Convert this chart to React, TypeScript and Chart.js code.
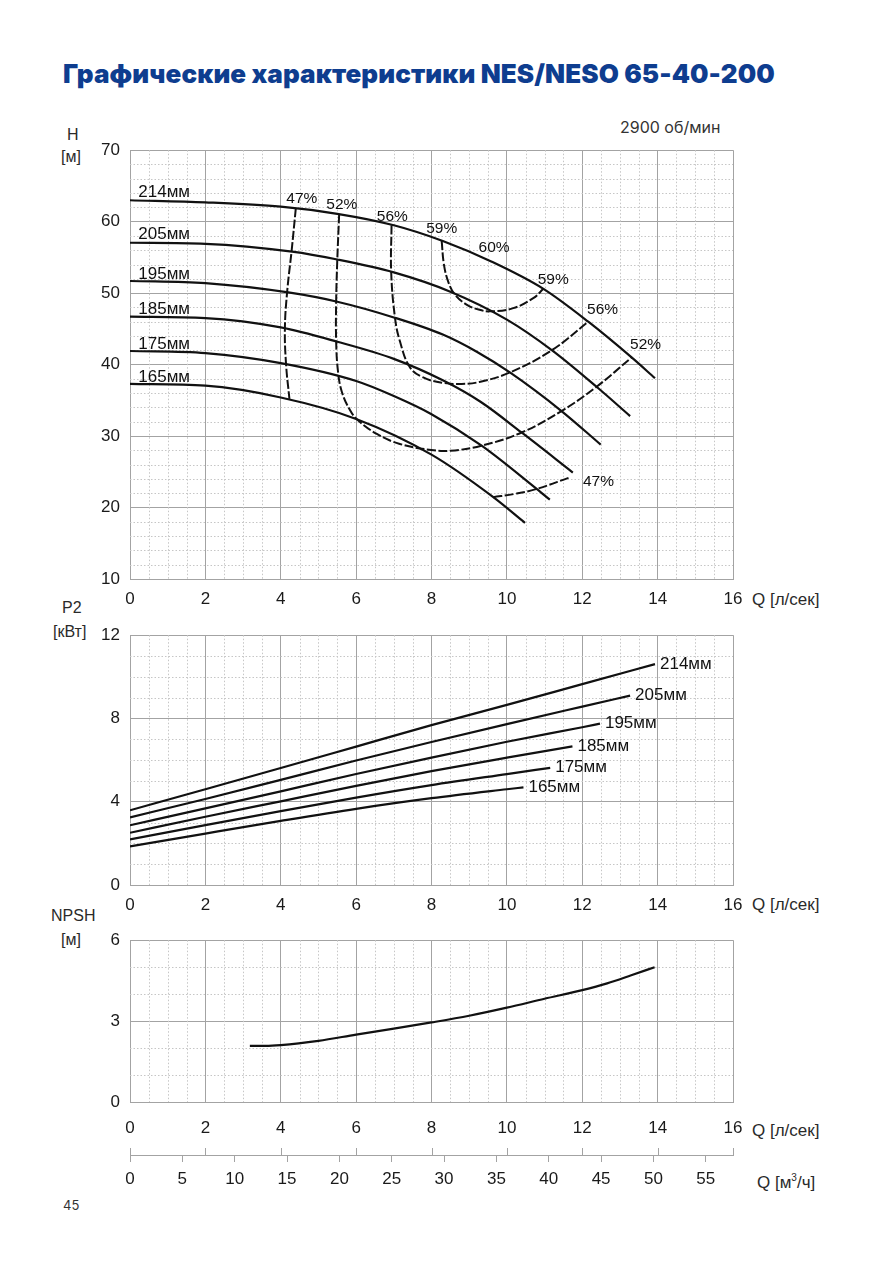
import React, { useEffect, useRef } from 'react';
import { Chart, registerables } from 'chart.js';
Chart.register(...registerables);

const FONT = '"Liberation Sans", Arial, sans-serif';
const GRID = '#a3a3a3';
const MINOR = '#c6c6c6';
const INK = '#111';

// ---------- H(Q) curves, l/s vs m ----------
const DIAMETERS = ['214мм', '205мм', '195мм', '185мм', '175мм', '165мм'];
const HQ_214 = [0, 2, 4, 5.5, 7, 8.3, 9.6, 10.97, 12.16, 13.31, 13.93];
const H_214 = [63.0, 62.7, 62.1, 61.1, 59.5, 57.3, 54.4, 50.6, 46.0, 41.0, 38.1];
const HQ_205 = [0, 2, 4.3, 5.5, 7, 8.5, 10, 11.2, 12.38, 13.27];
const H_205 = [57.05, 56.9, 55.8, 54.7, 52.9, 50.2, 46.3, 42.0, 36.9, 32.8];
const HQ_195 = [0, 2, 4.2, 5.5, 7, 8.3, 9.2, 10.08, 11.45, 12.49];
const H_195 = [51.7, 51.4, 50.1, 48.8, 46.6, 44.2, 41.8, 38.9, 33.5, 28.8];
const HQ_185 = [0, 2, 4, 5.5, 7, 8.3, 9.3, 10.39, 11.75];
const H_185 = [46.7, 46.5, 45.2, 43.2, 40.8, 37.8, 34.8, 30.5, 24.9];
const HQ_175 = [0, 2, 4, 6, 7, 8, 9.33, 10.79, 11.14];
const H_175 = [41.9, 41.6, 40.2, 37.7, 35.6, 33.06, 28.65, 22.6, 21.1];
const HQ_165 = [0, 2, 4, 6, 8, 9.64, 10.48];
const H_165 = [37.3, 37.05, 35.4, 32.4, 27.4, 21.45, 17.85];
const H_LABEL_Q = [0.22, 0.22, 0.22, 0.22, 0.22, 0.22];
const H_LABEL_H = [64.15, 58.2, 52.64, 47.68, 42.9, 38.26];

// ---------- efficiency iso-lines ----------
const E47A_Q = [4.40, 4.29, 4.17, 4.11, 4.14, 4.23];
const E47A_H = [61.9, 56.0, 50.2, 45.1, 40.1, 35.2];
const E47B_Q = [9.64, 10.2, 10.79, 11.66];
const E47B_H = [21.45, 21.9, 22.6, 24.2];
const E52_Q = [5.55, 5.50, 5.47, 5.47, 5.52, 5.62, 5.84, 6.05, 6.55, 7.16, 7.99, 8.5, 9.33, 10.39, 11.45, 12.38, 13.31];
const E52_H = [61.05, 54.6, 48.8, 43.2, 39.0, 36.2, 33.6, 32.2, 30.3, 28.9, 28.05, 27.95, 28.65, 30.5, 33.5, 36.9, 41.0];
const E56_Q = [6.94, 6.93, 7.03, 7.16, 7.43, 7.78, 8.3, 8.8, 9.3, 10.08, 11.19, 12.16];
const E56_H = [59.5, 53.0, 46.6, 43.3, 39.6, 38.2, 37.45, 37.3, 37.6, 38.9, 42.0, 46.0];
const E59_Q = [8.27, 8.33, 8.45, 8.62, 8.93, 9.25, 9.55, 10.17, 10.7, 10.97];
const E59_H = [57.3, 54.0, 51.5, 49.8, 48.4, 47.7, 47.45, 47.9, 49.3, 50.6];
const EFF_LABELS = ['47%', '52%', '56%', '59%', '60%', '59%', '56%', '52%', '47%'];
const EFF_LABEL_Q = [4.56, 5.62, 6.96, 8.27, 9.66, 11.23, 12.54, 13.68, 12.43];
const EFF_LABEL_H = [63.2, 62.4, 60.67, 59.0, 56.36, 51.86, 47.7, 42.8, 23.64];

// ---------- P2(Q), kW ----------
const PQ_214 = [0, 2, 4, 6, 8, 10, 12, 13.93];
const P_214 = [3.59, 4.6, 5.62, 6.65, 7.68, 8.65, 9.65, 10.61];
const PQ_205 = [0, 2, 4, 6, 8, 10, 12, 13.27];
const P_205 = [3.25, 4.13, 5.05, 5.98, 6.87, 7.73, 8.57, 9.1];
const PQ_195 = [0, 2, 4, 6, 8, 10, 12, 12.47];
const P_195 = [2.87, 3.68, 4.5, 5.33, 6.12, 6.88, 7.58, 7.75];
const PQ_185 = [0, 2, 4, 6, 8, 10, 11.74];
const P_185 = [2.51, 3.28, 4.02, 4.76, 5.47, 6.12, 6.66];
const PQ_175 = [0, 2, 4, 6, 8, 10, 11.15];
const P_175 = [2.19, 2.88, 3.55, 4.2, 4.8, 5.33, 5.63];
const PQ_165 = [0, 2, 4, 6, 8, 10, 10.44];
const P_165 = [1.85, 2.47, 3.08, 3.66, 4.17, 4.6, 4.69];

// ---------- NPSH(Q), m ----------
const NQ = [3.18, 3.6, 4, 5, 6, 7, 8, 9, 10, 11, 12, 12.66, 13.3, 13.92];
const NPSH = [2.08, 2.08, 2.11, 2.27, 2.5, 2.72, 2.95, 3.2, 3.5, 3.83, 4.15, 4.4, 4.7, 5.0];

const pts = (xs: number[], ys: number[]) => xs.map((x, i) => ({ x, y: ys[i] }));

type Txt = { t: string; x: number; y: number; align: CanvasTextAlign; dx?: number; size?: number };

function makeOverlay(o: {
  xStep: number; xMajor: number; yStep: number; yMajor: number;
  texts?: Txt[]; flowTicks?: boolean;
}) {
  return {
    id: 'overlay',
    beforeDatasetsDraw(chart: any) {
      const { ctx, chartArea: a, scales } = chart;
      const xs = scales.x, ys = scales.y;
      ctx.save();
      ctx.strokeStyle = MINOR;
      ctx.lineWidth = 1;
      ctx.setLineDash([1.5, 2]);
      const isMajor = (v: number, m: number) => Math.abs(v / m - Math.round(v / m)) < 1e-6;
      for (let v = xs.min + o.xStep; v < xs.max - 1e-9; v += o.xStep) {
        if (isMajor(v, o.xMajor)) continue;
        const px = Math.round(xs.getPixelForValue(v)) + 0.5;
        ctx.beginPath(); ctx.moveTo(px, a.top); ctx.lineTo(px, a.bottom); ctx.stroke();
      }
      for (let v = ys.min + o.yStep; v < ys.max - 1e-9; v += o.yStep) {
        if (isMajor(v, o.yMajor)) continue;
        const py = Math.round(ys.getPixelForValue(v)) + 0.5;
        ctx.beginPath(); ctx.moveTo(a.left, py); ctx.lineTo(a.right, py); ctx.stroke();
      }
      ctx.restore();
    },
    afterDatasetsDraw(chart: any) {
      const { ctx, scales } = chart;
      const xs = scales.x, ys = scales.y;
      ctx.save();
      ctx.fillStyle = INK;
      ctx.textBaseline = 'middle';
      (o.texts || []).forEach((t) => {
        ctx.font = `${t.size || 15.5}px ${FONT}`;
        ctx.textAlign = t.align;
        ctx.fillText(t.t, xs.getPixelForValue(t.x) + (t.dx || 0), ys.getPixelForValue(t.y));
      });
      if (o.flowTicks && scales.xm) {
        const top = scales.xm.top;
        ctx.strokeStyle = GRID;
        ctx.lineWidth = 1;
        for (let v = 0; v <= 16; v += 2) {
          const px = Math.round(xs.getPixelForValue(v)) + 0.5;
          ctx.beginPath(); ctx.moveTo(px, top - 7); ctx.lineTo(px, top); ctx.stroke();
        }
      }
      ctx.restore();
    },
  };
}

const tickFont = { family: FONT, size: 17 };

function xScale(height: number, pad: number) {
  return {
    type: 'linear', min: 0, max: 16, weight: 0,
    ticks: { stepSize: 2, color: '#1a1a1a', font: tickFont, padding: pad, maxRotation: 0, autoSkip: false },
    grid: { color: GRID, lineWidth: 1, drawTicks: false },
    border: { color: GRID },
    afterFit: (s: any) => { s.height = height; },
  };
}
function yScale(min: number, max: number, step: number) {
  return {
    type: 'linear', min, max,
    ticks: { stepSize: step, color: '#1a1a1a', font: tickFont, padding: 10, autoSkip: false },
    grid: { color: GRID, lineWidth: 1, drawTicks: false },
    border: { color: GRID },
    afterFit: (s: any) => { s.width = 130; },
  };
}

const solid = (data: any[]) => ({
  data, borderColor: INK, borderWidth: 2.2, pointRadius: 0, fill: false,
  cubicInterpolationMode: 'monotone', showLine: true,
});
const dashed = (data: any[]) => ({
  data, borderColor: INK, borderWidth: 2, pointRadius: 0, fill: false,
  tension: 0.4, borderDash: [9, 2.5], showLine: true,
});

function useChart(ref: React.RefObject<HTMLCanvasElement>, make: () => any) {
  useEffect(() => {
    if (!ref.current) return;
    const c = new Chart(ref.current, make());
    return () => c.destroy();
  }, []);
}

const baseOpts = {
  responsive: false, animation: false, devicePixelRatio: 1, events: [],
  plugins: { legend: { display: false }, tooltip: { enabled: false } },
};

export default function App() {
  const r1 = useRef<HTMLCanvasElement>(null);
  const r2 = useRef<HTMLCanvasElement>(null);
  const r3 = useRef<HTMLCanvasElement>(null);

  useChart(r1, () => {
    const texts: Txt[] = [];
    DIAMETERS.forEach((d, i) => texts.push({ t: d, x: H_LABEL_Q[i], y: H_LABEL_H[i], align: 'left', size: 17 }));
    EFF_LABELS.forEach((e, i) => texts.push({ t: e, x: EFF_LABEL_Q[i], y: EFF_LABEL_H[i], align: 'center' }));
    return {
      type: 'scatter',
      data: {
        datasets: [
          solid(pts(HQ_214, H_214)), solid(pts(HQ_205, H_205)), solid(pts(HQ_195, H_195)),
          solid(pts(HQ_185, H_185)), solid(pts(HQ_175, H_175)), solid(pts(HQ_165, H_165)),
          dashed(pts(E47A_Q, E47A_H)), dashed(pts(E47B_Q, E47B_H)), dashed(pts(E52_Q, E52_H)),
          dashed(pts(E56_Q, E56_H)), dashed(pts(E59_Q, E59_H)),
        ],
      },
      options: {
        ...baseOpts,
        layout: { padding: { top: 18, right: 160, left: 0, bottom: 0 } },
        scales: { x: xScale(36, 10), y: yScale(10, 70, 10) },
      },
      plugins: [makeOverlay({ xStep: 0.5, xMajor: 2, yStep: 2, yMajor: 10, texts })],
    };
  });

  useChart(r2, () => {
    const qs = [PQ_214, PQ_205, PQ_195, PQ_185, PQ_175, PQ_165];
    const ps = [P_214, P_205, P_195, P_185, P_175, P_165];
    const texts: Txt[] = DIAMETERS.map((d, i) => ({
      t: d, x: qs[i][qs[i].length - 1], y: ps[i][ps[i].length - 1], align: 'left' as CanvasTextAlign, dx: 5, size: 17,
    }));
    return {
      type: 'scatter',
      data: { datasets: qs.map((q, i) => solid(pts(q, ps[i]))) },
      options: {
        ...baseOpts,
        layout: { padding: { top: 12, right: 160, left: 0, bottom: 0 } },
        scales: { x: xScale(35, 10), y: yScale(0, 12, 4) },
      },
      plugins: [makeOverlay({ xStep: 0.5, xMajor: 2, yStep: 1, yMajor: 4, texts })],
    };
  });

  useChart(r3, () => ({
    type: 'scatter',
    data: { datasets: [{ ...solid(pts(NQ, NPSH)), xAxisID: 'x', yAxisID: 'y' }] },
    options: {
      ...baseOpts,
      layout: { padding: { top: 9, right: 160, left: 0, bottom: 0 } },
      scales: {
        x: xScale(53, 16),
        xm: {
          type: 'linear', position: 'bottom', min: 0, max: 57.6, weight: 1,
          ticks: {
            stepSize: 5, includeBounds: false, color: '#1a1a1a', font: tickFont, padding: 7,
            maxRotation: 0, autoSkip: false,
            callback: (v: number) => (Math.abs(v % 5) < 1e-6 ? String(v) : ''),
          },
          grid: {
            drawOnChartArea: false, drawTicks: true, tickLength: 7,
            tickColor: (c: any) => (c.tick && Math.abs(c.tick.value % 5) < 1e-6 ? GRID : 'rgba(0,0,0,0)'),
          },
          border: { color: GRID },
          afterFit: (s: any) => { s.height = 45; },
        },
        y: yScale(0, 6, 3),
      },
    },
    plugins: [makeOverlay({ xStep: 0.5, xMajor: 2, yStep: 1, yMajor: 3, flowTicks: true })],
  }));

  const lab = (text: React.ReactNode, left: number, top: number, extra: any = {}) => (
    <div style={{ position: 'absolute', left, top, font: `16px ${FONT}`, color: '#2a2a2a', whiteSpace: 'nowrap', lineHeight: '18px', ...extra }}>{text}</div>
  );

  return (
    <div style={{ position: 'absolute', left: 0, top: 0, width: 893, height: 1263, background: '#fff', overflow: 'hidden' }}>
      <div style={{ position: 'absolute', left: 63, top: 60, font: `900 26px Inter, "Noto Sans", sans-serif`, color: '#0e3d8f', whiteSpace: 'nowrap', lineHeight: '28px', letterSpacing: '0.1px' }}>
        Графические характеристики NES/NESO 65-40-200
      </div>
      <div style={{ position: 'absolute', left: 620, top: 117, font: `16px Inter, sans-serif`, color: '#333', whiteSpace: 'nowrap', lineHeight: '20px' }}>2900 об/мин</div>

      {lab('H', 67, 126)}
      {lab('[м]', 61, 148)}
      {lab('P2', 62, 599)}
      {lab('[кВт]', 53, 623)}
      {lab('NPSH', 51, 907)}
      {lab('[м]', 61, 931)}

      {lab('Q [л/сек]', 752, 591, { font: `17px ${FONT}` })}
      {lab('Q [л/сек]', 752, 896, { font: `17px ${FONT}` })}
      {lab('Q [л/сек]', 752, 1122, { font: `17px ${FONT}` })}
      {lab(<span>Q [м<sup style={{ fontSize: 10 }}>3</sup>/ч]</span>, 757, 1169, { font: `17px ${FONT}` })}

      <div style={{ position: 'absolute', left: 63, top: 1197, font: `13px Inter, sans-serif`, color: '#333' }}>45</div>

      <canvas ref={r1} width={893} height={485} style={{ position: 'absolute', left: 0, top: 130 }} />
      <canvas ref={r2} width={893} height={305} style={{ position: 'absolute', left: 0, top: 615 }} />
      <canvas ref={r3} width={893} height={280} style={{ position: 'absolute', left: 0, top: 920 }} />
    </div>
  );
}
